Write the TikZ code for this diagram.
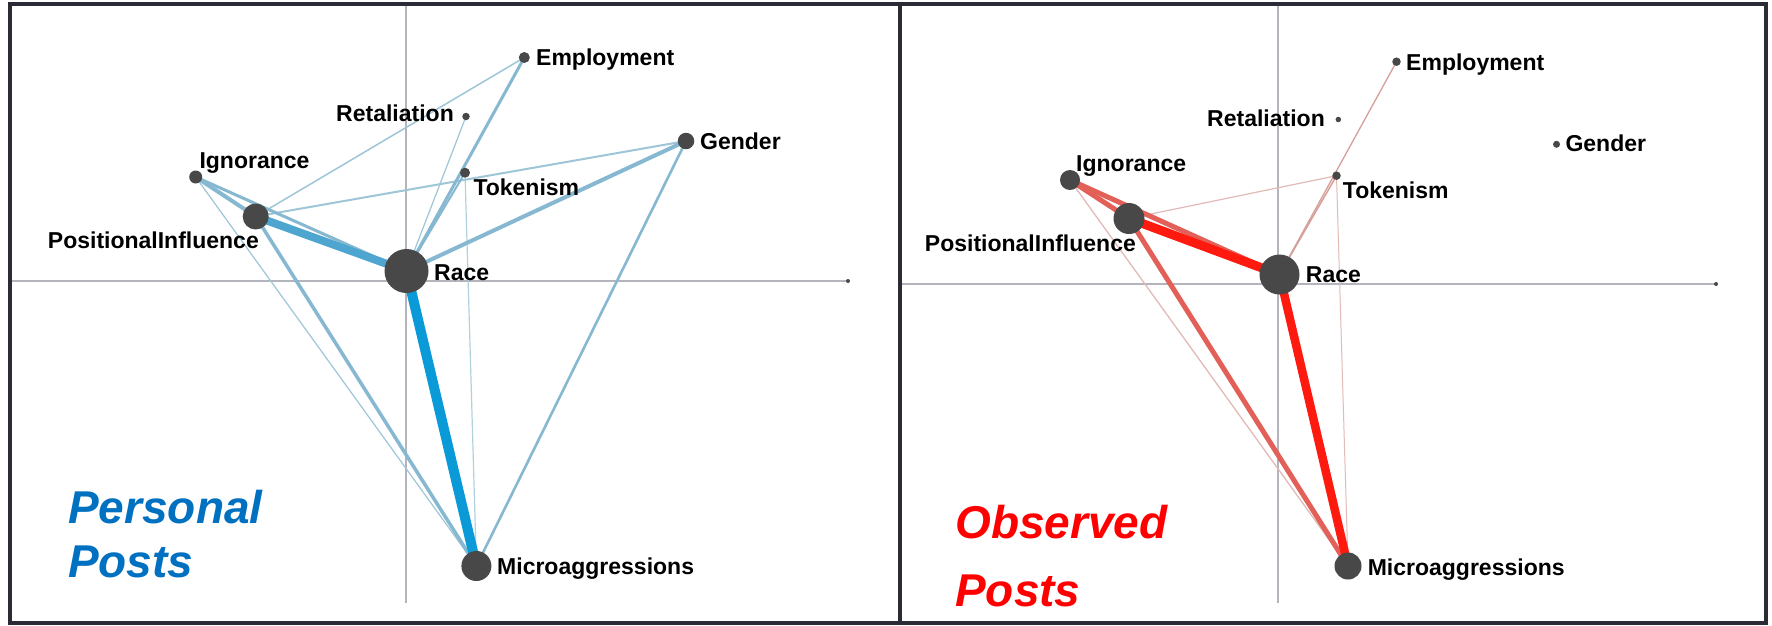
\documentclass[tikz,border=0pt]{standalone}
\usepackage{fontspec}
\setmainfont{Liberation Sans}
\pgfdeclarelayer{paper}
\pgfdeclarelayer{edges}
\pgfsetlayers{paper,edges,main}
\definecolor{nodegray}{HTML}{484848}
\definecolor{framecol}{HTML}{2B2B36}
\definecolor{axiscol}{HTML}{B4B4BC}
\definecolor{titleblue}{HTML}{0070C0}
\definecolor{titlered}{HTML}{FF0000}
% personal-post edge shades, light to strong
\definecolor{bA}{HTML}{B2D1DE}
\definecolor{bB}{HTML}{9EC6D7}
\definecolor{bC}{HTML}{86B9D1}
\definecolor{bD}{HTML}{4EA5D0}
\definecolor{bE}{HTML}{0A9AD8}
% observed-post edge shades, light to strong
\definecolor{rA}{HTML}{E2BAB6}
\definecolor{rB}{HTML}{D69F9A}
\definecolor{rC}{HTML}{E36058}
\definecolor{rD}{HTML}{FF1A0F}
\tikzset{
  dot/.style={circle, fill=nodegray, inner sep=0pt, minimum size=#1},
  lbl/.style={inner sep=0pt, font=\fontsize{23}{27}\selectfont\bfseries, text=black},
  ttl/.style={inner sep=0pt, font=\fontsize{46}{54}\selectfont\bfseries\itshape},
  axis/.style={draw=axiscol, line width=1.2pt},
  edge/.style={line width=#1},
}
\begin{document}
\begin{tikzpicture}[x=1pt,y=-1pt]
\useasboundingbox (0,0) rectangle (1772,625);
\begin{pgfonlayer}{paper}
\fill[white] (0,0) rectangle (1772,625);
\end{pgfonlayer}

% ---------- left panel: Personal Posts ----------
\coordinate (axLW) at (10,281);
\coordinate (axLE) at (848,281);
\coordinate (axLN) at (406,6);
\coordinate (axLS) at (406,603);
\begin{pgfonlayer}{paper}
\draw[axis] (axLW) -- (axLE);
\draw[axis] (axLN) -- (axLS);
\end{pgfonlayer}
\fill[nodegray] (axLE) circle (2);

\node[dot=11]   (empL) at (524.3,57.5) {};
\node[dot=7.5]  (retL) at (466,116.5) {};
\node[dot=16.5] (genL) at (686,141) {};
\node[dot=10]   (tokL) at (465,172.7) {};
\node[dot=13]   (ignL) at (195.7,177) {};
\node[dot=26]   (posL) at (255.7,216.5) {};
\node[dot=44]   (racL) at (406.5,271) {};
\node[dot=30]   (micL) at (476.4,566) {};

\begin{pgfonlayer}{edges}
\draw[edge=1.2pt, bB] (ignL.center) -- (micL.center);
\draw[edge=1.2pt, bA] (tokL.center) -- (micL.center);
\draw[edge=1.2pt, bB] (retL.center) -- (racL.center);
\draw[edge=1.5pt, bB] (posL.center) -- (empL.center);
\draw[edge=2pt,   bB] (posL.center) -- (genL.center);
\draw[edge=2pt,   bC] (tokL.center) -- (racL.center);
\draw[edge=3pt,   bC] (empL.center) -- (racL.center);
\draw[edge=2.6pt, bC] (genL.center) -- (micL.center);
\draw[edge=4pt,   bC] (racL.center) -- (genL.center);
\draw[edge=3.5pt, bC] (posL.center) -- (micL.center);
\draw[edge=3pt,   bC] (ignL.center) -- (racL.center);
\draw[edge=4pt,   bC] (ignL.center) -- (posL.center);
\draw[edge=8pt,   bD] (posL.center) -- (racL.center);
\draw[edge=10pt,  bE] (racL.center) -- (micL.center);
\end{pgfonlayer}

\node[lbl, anchor=base west] (tEmpL) at (536,65.7) {Employment};
\node[lbl, anchor=base east] (tRetL) at (454,121.7) {Retaliation};
\node[lbl, anchor=base west] (tGenL) at (700,149) {Gender};
\node[lbl, anchor=base west] (tIgnL) at (199.3,168.3) {Ignorance};
\node[lbl, anchor=base west] (tTokL) at (473.3,195.7) {Tokenism};
\node[lbl, anchor=base east] (tPosL) at (259,248.3) {PositionalInfluence};
\node[lbl, anchor=base west] (tRacL) at (434,280) {Race};
\node[lbl, anchor=base west] (tMicL) at (497,574) {Microaggressions};

\node[ttl, text=titleblue, anchor=base west] (ttlL1) at (68,523) {Personal};
\node[ttl, text=titleblue, anchor=base west] (ttlL2) at (68,577) {Posts};

% ---------- right panel: Observed Posts ----------
\coordinate (axRW) at (900,284);
\coordinate (axRE) at (1716,284);
\coordinate (axRN) at (1278,6);
\coordinate (axRS) at (1278,603);
\begin{pgfonlayer}{paper}
\draw[axis] (axRW) -- (axRE);
\draw[axis] (axRN) -- (axRS);
\end{pgfonlayer}
\fill[nodegray] (axRE) circle (2);

\node[dot=8.5] (empR) at (1396.5,61.7) {};
\node[dot=5.5] (retR) at (1338.3,119.5) {};
\node[dot=7]   (genR) at (1556.5,144.3) {};
\node[dot=8.5] (tokR) at (1336.5,175.7) {};
\node[dot=20]  (ignR) at (1070,180) {};
\node[dot=31]  (posR) at (1129,218.5) {};
\node[dot=40]  (racR) at (1279.5,274.5) {};
\node[dot=27]  (micR) at (1348,566) {};

\begin{pgfonlayer}{edges}
\draw[edge=1pt,   rA] (tokR.center) -- (micR.center);
\draw[edge=1.2pt, rA] (posR.center) -- (tokR.center);
\draw[edge=1.3pt, rA] (ignR.center) -- (micR.center);
\draw[edge=1.3pt, rB] (empR.center) -- (racR.center);
\draw[edge=1.5pt, rB] (tokR.center) -- (racR.center);
\draw[edge=5pt,   rC] (posR.center) -- (micR.center);
\draw[edge=5pt,   rC] (ignR.center) -- (racR.center);
\draw[edge=5pt,   rC] (ignR.center) -- (posR.center);
\draw[edge=9pt,   rD] (posR.center) -- (racR.center);
\draw[edge=8.5pt, rD] (racR.center) -- (micR.center);
\end{pgfonlayer}

\node[lbl, anchor=base west] (tEmpR) at (1406,70) {Employment};
\node[lbl, anchor=base east] (tRetR) at (1325,126.7) {Retaliation};
\node[lbl, anchor=base west] (tGenR) at (1565.3,151.7) {Gender};
\node[lbl, anchor=base west] (tIgnR) at (1076,171.7) {Ignorance};
\node[lbl, anchor=base west] (tTokR) at (1342.7,198.3) {Tokenism};
\node[lbl, anchor=base east] (tPosR) at (1136,251.7) {PositionalInfluence};
\node[lbl, anchor=base west] (tRacR) at (1305.7,282.3) {Race};
\node[lbl, anchor=base west] (tMicR) at (1367.6,575) {Microaggressions};

\node[ttl, text=titlered, anchor=base west] (ttlR1) at (955,538) {Observed};
\node[ttl, text=titlered, anchor=base west] (ttlR2) at (955,606) {Posts};

% ---------- frame ----------
\draw[framecol, line width=4pt] (10,4) rectangle (1766,623);
\draw[framecol, line width=4pt] (900,4) -- (900,623);
\end{tikzpicture}
\end{document}
